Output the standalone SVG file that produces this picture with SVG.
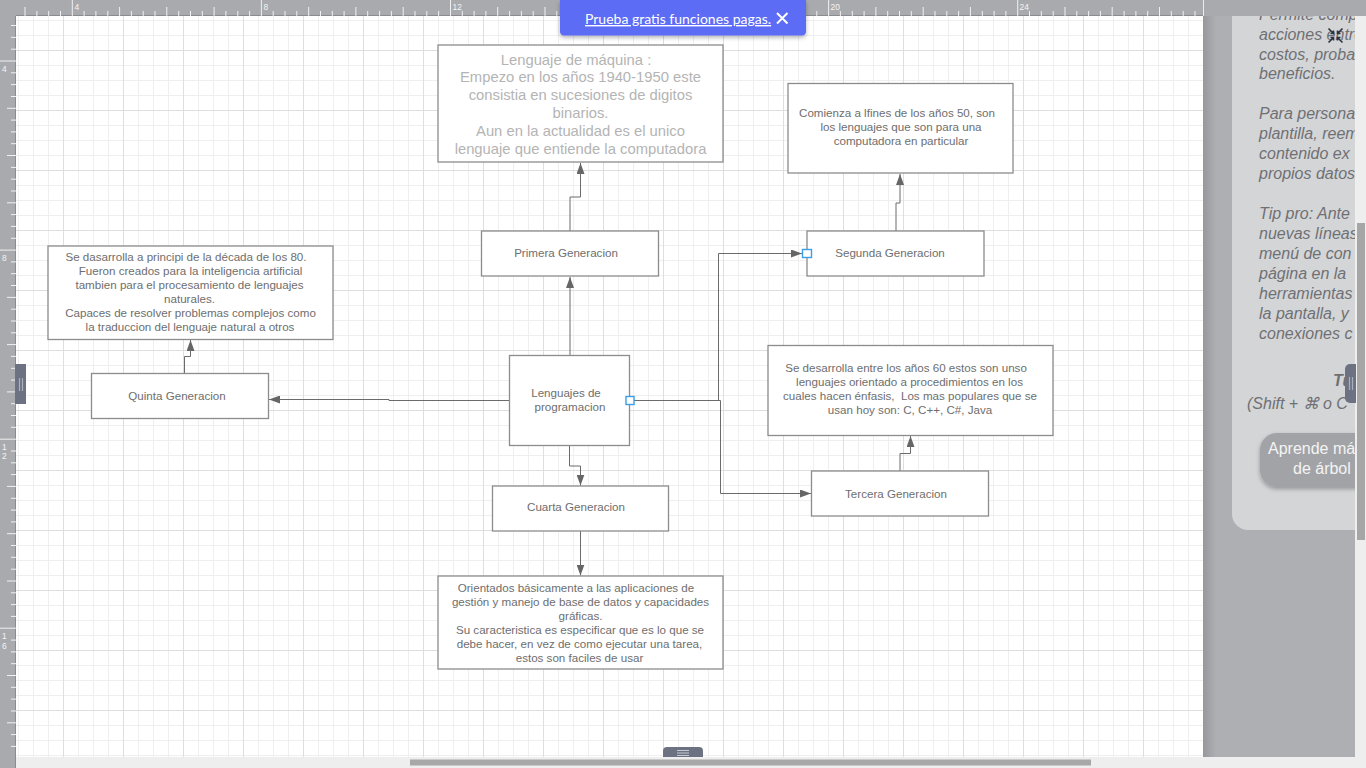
<svg xmlns="http://www.w3.org/2000/svg" width="1366" height="768" viewBox="0 0 1366 768">
<style>
.box{fill:#fff;stroke:#8c8c8c;stroke-width:1.3}
.t{font-family:"Liberation Sans",Arial,sans-serif;font-size:11.6px;fill:#6e6e6e;text-anchor:middle}
.tl{font-size:14.8px;fill:#b4b4b4}
.c{fill:none;stroke:#6b6b6b;stroke-width:1;marker-end:url(#ah)}
.cp{fill:#fff;stroke:#3a9fe6;stroke-width:1.4}
.rl{font-family:"Liberation Sans",Arial,sans-serif;font-size:8.4px;fill:#f4f4f4}
.pt{font-family:"Liberation Sans",Arial,sans-serif;font-size:16px;font-style:italic;fill:#6f7074}
.tick{stroke:#f0f0f0;stroke-width:1;fill:none}
</style>
<defs>
<marker id="ah" markerUnits="userSpaceOnUse" viewBox="0 0 11 8" markerWidth="11" markerHeight="8" refX="11" refY="4" orient="auto"><path d="M0,0 L11,4 L0,8 z" fill="#666"/></marker>
<pattern id="gmin" x="3" y="5" width="15" height="15" patternUnits="userSpaceOnUse"><rect width="15" height="1" fill="#efefef"/><rect width="1" height="15" fill="#efefef"/></pattern>
<pattern id="gmaj" x="3" y="50" width="60" height="60" patternUnits="userSpaceOnUse"><rect width="60" height="1" fill="#dedede"/><rect width="1" height="60" fill="#dedede"/></pattern>
<linearGradient id="edge" x1="0" x2="1" y1="0" y2="0"><stop offset="0" stop-color="#97989b"/><stop offset="1" stop-color="#aeafb3"/></linearGradient>
<clipPath id="pclip"><rect x="1203" y="16" width="152" height="741"/></clipPath>
<filter id="sh" x="-10%" y="-20%" width="120%" height="160%"><feDropShadow dx="0" dy="2" stdDeviation="2" flood-color="#000" flood-opacity="0.3"/></filter>
</defs>

<!-- canvas -->
<rect x="16" y="16" width="1187" height="741" fill="#fff"/>
<rect x="16" y="16" width="1187" height="741" fill="url(#gmin)"/>
<rect x="16" y="16" width="1187" height="741" fill="url(#gmaj)"/>

<!-- right side area -->
<rect x="1203" y="16" width="152" height="741" fill="#aeafb3"/>
<rect x="1203" y="16" width="13" height="741" fill="url(#edge)"/>
<g clip-path="url(#pclip)">
<path d="M1232,0 V514 A16,16 0 0 0 1248,530 H1360 V0 Z" fill="#d4d5d7"/>
<text class="pt" x="1259" y="20">Permite comp</text>
<text class="pt" x="1259" y="40">acciones entre</text>
<text class="pt" x="1259" y="59.5">costos, proba</text>
<text class="pt" x="1259" y="79.3">beneficios.</text>
<text class="pt" x="1259" y="119.3">Para persona</text>
<text class="pt" x="1259" y="139.3">plantilla, reem</text>
<text class="pt" x="1259" y="159.3">contenido ex</text>
<text class="pt" x="1259" y="179.3">propios datos</text>
<text class="pt" x="1259" y="219.3">Tip pro: Ante</text>
<text class="pt" x="1259" y="239.3">nuevas líneas</text>
<text class="pt" x="1259" y="259.3">menú de con</text>
<text class="pt" x="1259" y="279.3">página en la</text>
<text class="pt" x="1259" y="299.3">herramientas</text>
<text class="pt" x="1259" y="319.3">la pantalla, y</text>
<text class="pt" x="1259" y="339.3">conexiones c</text>
<text class="pt" x="1333" y="386" style="font-weight:bold">Tu</text>
<text class="pt" x="1247" y="409">(Shift + ⌘ o C</text>
<rect x="1260" y="433" width="130" height="54" rx="17" fill="#a2a3a7" filter="url(#sh)"/>
<text x="1268" y="454" style="font-family:'Liberation Sans',Arial,sans-serif;font-size:16px;fill:#f4f4f4">Aprende má</text>
<text x="1293" y="474" style="font-family:'Liberation Sans',Arial,sans-serif;font-size:16px;fill:#f4f4f4">de árbol</text>
</g>
<!-- collapse icon -->
<g stroke="#2d3440" stroke-width="1.6" fill="none">
<path d="M1328.5,28.5 L1333.5,33.5 M1330.5,33.5 H1333.5 V30.5"/>
<path d="M1342.5,28.5 L1337.5,33.5 M1340.5,33.5 H1337.5 V30.5"/>
<path d="M1328.5,42.5 L1333.5,37.5 M1330.5,37.5 H1333.5 V40.5"/>
<path d="M1342.5,42.5 L1337.5,37.5 M1340.5,37.5 H1337.5 V40.5"/>
</g>
<!-- right scroll strip -->
<rect x="1355" y="16" width="11" height="752" fill="#eeeeee"/>
<rect x="1357" y="223" width="8" height="317" fill="#a6a6a6"/>
<path d="M1356,364 V403 H1350 A5,5 0 0 1 1345,398 V369 A5,5 0 0 1 1350,364 Z" fill="#6c7282"/>
<path d="M1349.5,377 V390 M1352.5,377 V390" stroke="#aab0bc" stroke-width="1.2"/>

<!-- bottom scroll strip -->
<rect x="16" y="757" width="1339" height="11" fill="#eeeeee"/>
<rect x="410" y="759.5" width="681" height="6" fill="#a8a8a8"/>
<path d="M663,757 V751 A4,4 0 0 1 667,747 H699 A4,4 0 0 1 703,751 V757 Z" fill="#6c7282"/>
<path d="M677,750.5 H689 M677,753 H689 M677,755.5 H689" stroke="#c5c9d2" stroke-width="1"/>

<!-- rulers -->
<rect x="0" y="0" width="1366" height="16" fill="#a9aaad"/>
<rect x="0" y="0" width="16" height="768" fill="#a9aaad"/>
<line x1="16" y1="15.5" x2="1203" y2="15.5" stroke="#8a8b8e"/>
<line x1="15.5" y1="16" x2="15.5" y2="768" stroke="#8a8b8e"/>
<line x1="1203.5" y1="0" x2="1203.5" y2="16" stroke="#ececec"/>
<path class="tick" d="M25,7V16M36.9,11V16M48.7,11V16M60.5,11V16M72.3,0V16M84.1,11V16M95.9,11V16M107.8,11V16M119.6,7V16M131.4,11V16M143.2,11V16M155,11V16M166.8,7V16M178.7,11V16M190.5,11V16M202.3,11V16M214.1,7V16M225.9,11V16M237.8,11V16M249.6,11V16M261.4,0V16M273.2,11V16M285,11V16M296.8,11V16M308.7,7V16M320.5,11V16M332.3,11V16M344.1,11V16M355.9,7V16M367.7,11V16M379.6,11V16M391.4,11V16M403.2,7V16M415,11V16M426.8,11V16M438.6,11V16M450.5,0V16M462.3,11V16M474.1,11V16M485.9,11V16M497.7,7V16M509.6,11V16M521.4,11V16M533.2,11V16M545,7V16M556.8,11V16M568.6,11V16M580.5,11V16M592.3,7V16M604.1,11V16M615.9,11V16M627.7,11V16M639.5,0V16M651.4,11V16M663.2,11V16M675,11V16M686.8,7V16M698.6,11V16M710.5,11V16M722.3,11V16M734.1,7V16M745.9,11V16M757.7,11V16M769.5,11V16M781.4,7V16M793.2,11V16M805,11V16M816.8,11V16M828.6,0V16M840.4,11V16M852.3,11V16M864.1,11V16M875.9,7V16M887.7,11V16M899.5,11V16M911.3,11V16M923.2,7V16M935,11V16M946.8,11V16M958.6,11V16M970.4,7V16M982.3,11V16M994.1,11V16M1005.9,11V16M1017.7,0V16M1029.5,11V16M1041.3,11V16M1053.2,11V16M1065,7V16M1076.8,11V16M1088.6,11V16M1100.4,11V16M1112.2,7V16M1124.1,11V16M1135.9,11V16M1147.7,11V16M1159.5,7V16M1171.3,11V16M1183.2,11V16M1195,11V16"/>
<path class="tick" d="M11,25.5H16M11,37.4H16M11,49.2H16M0,61H16M11,72.8H16M11,84.6H16M11,96.5H16M7,108.3H16M11,120.1H16M11,131.9H16M11,143.7H16M7,155.5H16M11,167.4H16M11,179.2H16M11,191H16M7,202.8H16M11,214.6H16M11,226.4H16M11,238.3H16M0,250.1H16M11,261.9H16M11,273.7H16M11,285.5H16M7,297.4H16M11,309.2H16M11,321H16M11,332.8H16M7,344.6H16M11,356.4H16M11,368.3H16M11,380.1H16M7,391.9H16M11,403.7H16M11,415.5H16M11,427.3H16M0,439.2H16M11,451H16M11,462.8H16M11,474.6H16M7,486.4H16M11,498.3H16M11,510.1H16M11,521.9H16M7,533.7H16M11,545.5H16M11,557.3H16M11,569.2H16M7,581H16M11,592.8H16M11,604.6H16M11,616.4H16M0,628.2H16M11,640.1H16M11,651.9H16M11,663.7H16M7,675.5H16M11,687.3H16M11,699.1H16M11,711H16M7,722.8H16M11,734.6H16M11,746.4H16"/>
<text class="rl" x="74.5" y="10">4</text>
<text class="rl" x="263.5" y="10">8</text>
<text class="rl" x="452.5" y="10">12</text>
<text class="rl" x="830.5" y="10">20</text>
<text class="rl" x="1019.5" y="10">24</text>
<text class="rl" x="2" y="71.7">4</text>
<text class="rl" x="2" y="261">8</text>
<text class="rl" x="2" y="450">1</text>
<text class="rl" x="2" y="459.3">2</text>
<text class="rl" x="2" y="638.8">1</text>
<text class="rl" x="2" y="648.5">6</text>
<path d="M26,364 V404 H20 A5,5 0 0 1 15,399 V364 Z" fill="#6c7282"/>
<path d="M15,364 H21 A5,5 0 0 1 26,369 V399 A5,5 0 0 1 21,404 H15 Z" fill="#6c7282"/>
<path d="M19.5,378 V391 M22.5,378 V391" stroke="#aab0bc" stroke-width="1.2"/>

<!-- connectors -->
<g id="connectors">
<path class="c" d="M570,355.5 V277"/>
<path class="c" d="M570,231 V197 H580.5 V163"/>
<path class="c" d="M509.5,400.5 H389 V399.5 H269"/>
<path class="c" d="M184.5,373.5 V356.5 H190.5 V340"/>
<path class="c" d="M569.5,445.5 V466 H580.5 V485.5"/>
<path class="c" d="M580.5,531 V575.5"/>
<path class="c" d="M629.5,400.5 H718.5 V253.5 H802"/>
<path class="c" d="M629.5,400.5 H720.5 V493.5 H811"/>
<path class="c" d="M896,231 V203 H900 V174"/>
<path class="c" d="M900,471 V453.5 H910.5 V436"/>
</g>

<!-- nodes -->
<g id="maquina">
<rect class="box" x="438" y="45" width="285" height="117"/>
<text class="t tl" x="576" y="64.5">Lenguaje de máquina :</text>
<text class="t tl" x="580.5" y="82.3">Empezo en los años 1940-1950 este</text>
<text class="t tl" x="580.5" y="100.1">consistia en sucesiones de digitos</text>
<text class="t tl" x="580.5" y="117.9">binarios.</text>
<text class="t tl" x="580.5" y="135.7">Aun en la actualidad es el unico</text>
<text class="t tl" x="580.5" y="153.5">lenguaje que entiende la computadora</text>
</g>
<g id="segunda-desc">
<rect class="box" x="788" y="83.5" width="225" height="89.5"/>
<text class="t" x="897" y="116.5">Comienza a lfines de los años 50, son</text>
<text class="t" x="901" y="130.5">los lenguajes que son para una</text>
<text class="t" x="901" y="144.5">computadora en particular</text>
</g>
<g id="primera">
<rect class="box" x="481.5" y="231" width="177" height="45"/>
<text class="t" x="566" y="257">Primera Generacion</text>
</g>
<g id="segunda">
<rect class="box" x="807" y="231" width="177" height="45"/>
<text class="t" x="890" y="257">Segunda Generacion</text>
</g>
<g id="quinta-desc">
<rect class="box" x="48" y="246" width="285" height="93.5"/>
<text class="t" x="186" y="261">Se dasarrolla a principi de la década de los 80.</text>
<text class="t" x="190.5" y="275">Fueron creados para la inteligencia artificial</text>
<text class="t" x="189.5" y="289">tambien para el procesamiento de lenguajes</text>
<text class="t" x="189.5" y="303">naturales.</text>
<text class="t" x="190.5" y="317">Capaces de resolver problemas complejos como</text>
<text class="t" x="190" y="331">la traduccion del lenguaje natural a otros</text>
</g>
<g id="centro">
<rect class="box" x="509.5" y="355.5" width="120" height="90"/>
<text class="t" x="566" y="397">Lenguajes de</text>
<text class="t" x="570" y="411">programacion</text>
<rect class="cp" x="626" y="396.5" width="8" height="8"/>
</g>
<g id="tercera-desc">
<rect class="box" x="768" y="345.5" width="285" height="90"/>
<text class="t" x="906" y="371.5">Se desarrolla entre los años 60 estos son unso</text>
<text class="t" x="909.5" y="385.5">lenguajes orientado a procedimientos en los</text>
<text class="t" x="910" y="399.5" style="white-space:pre">cuales hacen énfasis,  Los mas populares que se</text>
<text class="t" x="910" y="413.5">usan hoy son: C, C++, C#, Java</text>
</g>
<g id="quinta">
<rect class="box" x="91.5" y="373.5" width="177" height="45"/>
<text class="t" x="177" y="399.5">Quinta Generacion</text>
</g>
<g id="tercera">
<rect class="box" x="811.5" y="471" width="177" height="45"/>
<text class="t" x="896" y="497.5">Tercera Generacion</text>
</g>
<g id="cuarta">
<rect class="box" x="492.5" y="486" width="176" height="45"/>
<text class="t" x="576" y="511">Cuarta Generacion</text>
</g>
<g id="cuarta-desc">
<rect class="box" x="438" y="576" width="285" height="93"/>
<text class="t" x="576" y="591.5">Orientados básicamente a las aplicaciones de</text>
<text class="t" x="580.5" y="605.5">gestión y manejo de base de datos y capacidades</text>
<text class="t" x="580.5" y="619.5">gráficas.</text>
<text class="t" x="580" y="633.5">Su caracteristica es especificar que es lo que se</text>
<text class="t" x="579.5" y="647.5">debe hacer, en vez de como ejecutar una tarea,</text>
<text class="t" x="579.5" y="661.5">estos son faciles de usar</text>
</g>
<rect class="cp" x="802.5" y="249.5" width="9" height="8"/>

<!-- banner -->
<g id="banner">
<path d="M560,0 H806 V31 A4,4 0 0 1 802,35.5 H564 A4,4 0 0 1 560,31 Z" fill="#5b6cf5" filter="url(#sh)"/>
<text x="585" y="24" style="font-family:Lato,'Liberation Sans',sans-serif;font-size:14px;fill:#ffffff;text-decoration:underline">Prueba gratis funciones pagas.</text>
<path d="M777,13 L787.5,23.5 M787.5,13 L777,23.5" stroke="#fff" stroke-width="2"/>
</g>
</svg>
